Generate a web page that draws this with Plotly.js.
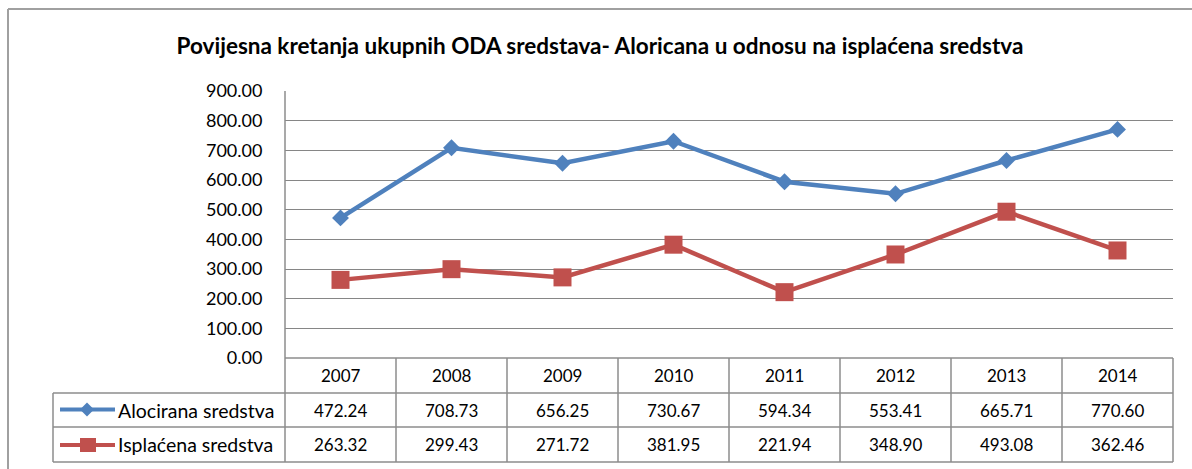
<!DOCTYPE html>
<html><head><meta charset="utf-8">
<script src="https://cdn.plot.ly/plotly-3.0.1.min.js"></script>
<style>html,body{margin:0;padding:0;background:#fff;} #chart{width:1192px;height:469px;}</style>
</head><body><div id="chart"></div>
<script>
// ---- data ----
const years = ['2007','2008','2009','2010','2011','2012','2013','2014'];
const seriesNames = ['Alocirana sredstva','Isplaćena sredstva'];
const alocirana = [472.24,708.73,656.25,730.67,594.34,553.41,665.71,770.60];
const isplacena = [263.32,299.43,271.72,381.95,221.94,348.90,493.08,362.46];
const yTicks = [0,100,200,300,400,500,600,700,800,900];
const titleText = 'Povijesna kretanja ukupnih ODA sredstava- Aloricana u odnosu na isplaćena sredstva';

// ---- geometry (pixels) ----
const W = 1192, H = 469;
const L = 285, R = 1173, T = 91, B = 358;
const PW = R - L, PH = B - T;
const px = v => (v - L) / PW;      // pixel x -> paper
const py = v => (B - v) / PH;      // pixel y -> paper
const rowY = [358, 393, 427, 462];
const tableLeft = 53;
const colW = PW / years.length;

const blue = '#4F81BD', red = '#C0504D';
const gridC = '#868686', borderC = '#8c8c8c';
const FONT = 'Lato, "Open Sans", sans-serif';

const xs = years.map((_, i) => i);

const traces = [
  {x: xs, y: alocirana, name: seriesNames[0], type: 'scatter', mode: 'lines+markers',
   line: {color: blue, width: 4.5}, marker: {symbol: 'diamond', size: 13, color: blue}},
  {x: xs, y: isplacena, name: seriesNames[1], type: 'scatter', mode: 'lines+markers',
   line: {color: red, width: 4.5}, marker: {symbol: 'square', size: 18, color: red}}
];

const shapes = [];
const line = (x0, y0, x1, y1, color, width) => shapes.push({type: 'line', xref: 'paper', yref: 'paper',
  x0: px(x0), y0: py(y0), x1: px(x1), y1: py(y1), line: {color: color, width: width}, layer: 'above'});

// outer frame
line(8, 9, 1200, 9, '#a0a0a0', 2);
line(8, 9, 8, 480, '#a0a0a0', 2);
// plot area left border, through table
line(L, T, L, rowY[3], borderC, 1.5);
// table horizontal lines
line(L, rowY[0], R, rowY[0], borderC, 1.5);
for (let k = 1; k < 4; k++) line(tableLeft, rowY[k], R, rowY[k], borderC, 1.5);
line(tableLeft, rowY[1], tableLeft, rowY[3], borderC, 1.5);
for (let k = 1; k <= years.length; k++) line(L + k * colW, rowY[0], L + k * colW, rowY[3], borderC, 1.5);

// legend keys inside table
const keyY1 = (rowY[1] + rowY[2]) / 2 - 0.5, keyY2 = (rowY[2] + rowY[3]) / 2 + 0.5;
line(60, keyY1, 115, keyY1, blue, 4);
line(60, keyY2, 115, keyY2, red, 4);
const dx = 87, dr = 7;
shapes.push({type: 'path', xref: 'paper', yref: 'paper', layer: 'above',
  path: `M${px(dx)},${py(keyY1 - dr)} L${px(dx + dr)},${py(keyY1)} L${px(dx)},${py(keyY1 + dr)} L${px(dx - dr)},${py(keyY1)} Z`,
  fillcolor: blue, line: {width: 0}});
shapes.push({type: 'rect', xref: 'paper', yref: 'paper', layer: 'above',
  x0: px(80), x1: px(96), y0: py(keyY2 - 7), y1: py(keyY2 + 7), fillcolor: red, line: {width: 0}});

const annotations = [];
const tf = {family: FONT, size: 17, color: '#000'};
const lf = {family: FONT, size: 19.5, color: '#000'};
const rowC = [ (rowY[0] + rowY[1]) / 2, (rowY[1] + rowY[2]) / 2, (rowY[2] + rowY[3]) / 2 ];
years.forEach((yr, i) => {
  annotations.push({x: i, xref: 'x', y: py(rowC[0]), yref: 'paper', text: yr, showarrow: false, font: tf, xanchor: 'center', yanchor: 'middle'});
  annotations.push({x: i, xref: 'x', y: py(rowC[1]), yref: 'paper', text: alocirana[i].toFixed(2), showarrow: false, font: tf, xanchor: 'center', yanchor: 'middle'});
  annotations.push({x: i, xref: 'x', y: py(rowC[2]), yref: 'paper', text: isplacena[i].toFixed(2), showarrow: false, font: tf, xanchor: 'center', yanchor: 'middle'});
});
annotations.push({x: px(116), xref: 'paper', y: py(rowC[1]), yref: 'paper', text: seriesNames[0], showarrow: false, font: lf, xanchor: 'left', yanchor: 'middle'});
annotations.push({x: px(116), xref: 'paper', y: py(rowC[2]), yref: 'paper', text: seriesNames[1], showarrow: false, font: lf, xanchor: 'left', yanchor: 'middle'});

const layout = {
  width: W, height: H,
  margin: {l: L, r: W - R, t: T, b: H - B, pad: 0},
  paper_bgcolor: '#fff', plot_bgcolor: '#fff',
  showlegend: false,
  title: {text: '<b>' + titleText + '</b>', font: {family: FONT, size: 22.5, color: '#000'},
          x: 600 / W, xanchor: 'center', y: 1 - 46 / H, yanchor: 'middle', xref: 'container', yref: 'container'},
  xaxis: {range: [-0.5, years.length - 0.5], showgrid: false, zeroline: false, showticklabels: false,
          showline: false, ticks: '', fixedrange: true},
  yaxis: {range: [0, 900], tickvals: yTicks, ticktext: yTicks.map(v => v.toFixed(2)),
          showgrid: true, gridcolor: gridC, gridwidth: 1, zeroline: false, showline: false,
          ticks: 'outside', ticklen: 18, tickcolor: 'rgba(0,0,0,0)',
          tickfont: {family: FONT, size: 18, color: '#000'}, fixedrange: true},
  shapes: shapes, annotations: annotations
};

Plotly.newPlot('chart', traces, layout, {displayModeBar: false, staticPlot: true});
</script></body></html>
